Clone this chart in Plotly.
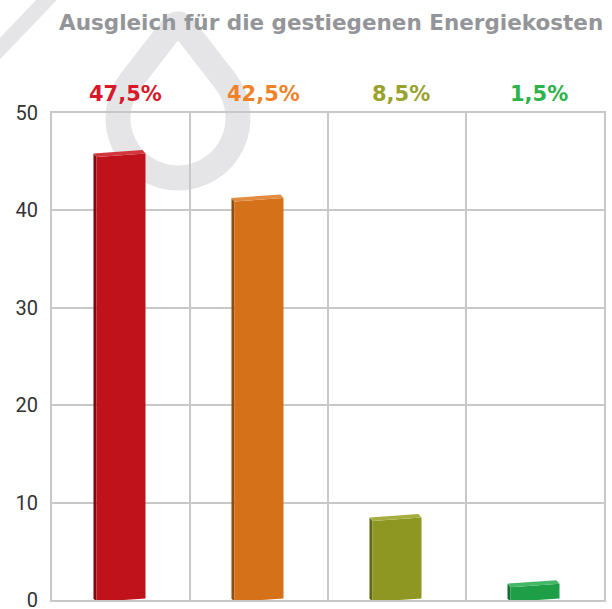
import math
import plotly.graph_objects as go

# ---- data ----
categories = ["A", "B", "C", "D"]
bar_values = [45.65, 41.1, 8.3, 1.5]
label_texts = ["47,5%", "42,5%", "8,5%", "1,5%"]
bar_colors = ["#c0121b", "#d47119", "#8e9722", "#1e9e46"]
side_colors = ["#7e0a0f", "#944c0c", "#626914", "#146e30"]
top_colors = ["#d3373e", "#e38b3f", "#a6ae40", "#43b866"]
label_colors = ["#d7192a", "#f0832a", "#9aa22e", "#2db34a"]
y_ticks = [0, 10, 20, 30, 40, 50]
title_text = "Ausgleich für die gestiegenen Energiekosten"

W, H = 612, 609
ML, MR, MT, MB = 52, 8, 113, 9
PW, PH = W - ML - MR, H - MT - MB

def px2paper(px, py):
    return (px - ML) / PW, (H - MB - py) / PH

xs = list(range(len(categories)))
bw = 0.355      # bar width (category units)
slant = 0.36    # perspective slant of front face (y units over bar width)
dx, dy = 0.022, 0.36  # depth offsets of the 3-D box

fig = go.Figure()
for i, v in enumerate(bar_values):
    xl, xr = xs[i] - bw / 2, xs[i] + bw / 2
    b0 = -0.2
    fig.add_trace(go.Scatter(
        x=[xl - dx, xl, xl, xl - dx, xl - dx],
        y=[b0 + dy, b0, v - slant / 2, v - slant / 2 + dy, b0 + dy],
        fill="toself", fillcolor=side_colors[i], mode="lines", line=dict(width=0),
        hoverinfo="skip", showlegend=False))
    fig.add_trace(go.Scatter(
        x=[xl, xr, xr, xl, xl],
        y=[b0, b0 + slant, v + slant / 2, v - slant / 2, b0],
        fill="toself", fillcolor=bar_colors[i], mode="lines", line=dict(width=0),
        hoverinfo="skip", showlegend=False))
    fig.add_trace(go.Scatter(
        x=[xl, xr, xr - dx, xl - dx, xl],
        y=[v - slant / 2, v + slant / 2, v + slant / 2 + dy, v - slant / 2 + dy, v - slant / 2],
        fill="toself", fillcolor=top_colors[i], mode="lines", line=dict(width=0),
        hoverinfo="skip", showlegend=False))

annotations = []
for i, (t, c) in enumerate(zip(label_texts, label_colors)):
    annotations.append(dict(x=xs[i] + 0.03, y=1.04, xref="x", yref="paper", text=f"<b>{t}</b>",
                            showarrow=False,
                            font=dict(family="DejaVu Sans", size=21, color=c),
                            xanchor="center", yanchor="middle"))

# ---- decorative watermark (teardrop outline + diagonal band) ----
cx, cy, r = 178, 118, 60
peak = (178, 20)
d = cy - peak[1]
beta = math.acos(r / d)
tl = (cx - r * math.sin(beta), cy - r * math.cos(beta))
tr = (cx + r * math.sin(beta), cy - r * math.cos(beta))

def P(p):
    x, y = px2paper(*p)
    return f"{x:.5f},{y:.5f}"

path = f"M{P(tl)} "
f = 0.88
a = (tl[0] + (peak[0] - tl[0]) * f, tl[1] + (peak[1] - tl[1]) * f)
b = (tr[0] + (peak[0] - tr[0]) * f, tr[1] + (peak[1] - tr[1]) * f)
path += f"L{P(a)} Q{P(peak)} {P(b)} L{P(tr)} "
th0 = math.atan2(tr[1] - cy, tr[0] - cx)
th1 = math.atan2(tl[1] - cy, tl[0] - cx)
if th1 < th0:
    th1 += 2 * math.pi
nseg = 4
dth = (th1 - th0) / nseg
k = 4 / 3 * math.tan(dth / 4)
for s in range(nseg):
    t0 = th0 + s * dth
    t1 = t0 + dth
    p0 = (cx + r * math.cos(t0), cy + r * math.sin(t0))
    p3 = (cx + r * math.cos(t1), cy + r * math.sin(t1))
    c1 = (p0[0] - k * r * math.sin(t0), p0[1] + k * r * math.cos(t0))
    c2 = (p3[0] + k * r * math.sin(t1), p3[1] - k * r * math.cos(t1))
    path += f"C{P(c1)} {P(c2)} {P(p3)} "
path += "Z"

shapes = [
    dict(type="path", path=path, xref="paper", yref="paper", layer="below",
         line=dict(color="#e5e5e7", width=25), fillcolor="rgba(0,0,0,0)"),
]
x0, y0 = px2paper(-12, 61)
x1, y1 = px2paper(58, -12)
shapes.append(dict(type="line", x0=x0, y0=y0, x1=x1, y1=y1, xref="paper", yref="paper",
                   layer="below", line=dict(color="#e5e5e7", width=15)))

tx, ty = px2paper(331, 22)
annotations.append(dict(x=tx, y=ty, xref="paper", yref="paper", text=f"<b>{title_text}</b>",
                        showarrow=False, font=dict(family="DejaVu Sans", size=21.5, color="#939598"),
                        xanchor="center", yanchor="middle"))

grid = "#c8c8c8"
fig.update_layout(
    width=W, height=H,
    margin=dict(l=ML, r=MR, t=MT, b=MB, autoexpand=False),
    paper_bgcolor="white", plot_bgcolor="rgba(0,0,0,0)",
    shapes=shapes, annotations=annotations,
    xaxis=dict(range=[-0.5, len(categories) - 0.5], tickvals=[i + 0.5 for i in xs[:-1]],
               showticklabels=False, showgrid=True, gridcolor=grid, gridwidth=2,
               showline=True, linecolor=grid, linewidth=2, mirror=True, zeroline=False,
               fixedrange=True),
    yaxis=dict(range=[0, 50], tickvals=y_ticks, showgrid=True, gridcolor=grid, gridwidth=2,
               showline=True, linecolor=grid, linewidth=2, mirror=True, zeroline=False,
               tickfont=dict(family="Roboto", size=20, color="#333333"),
               ticklabelstandoff=8, ticklabeloverflow="allow", automargin=False, fixedrange=True),
)

fig.write_html("out.html", config={"displayModeBar": False, "staticPlot": True},
               post_script="document.body.style.margin='0px';document.body.style.overflow='hidden';")
